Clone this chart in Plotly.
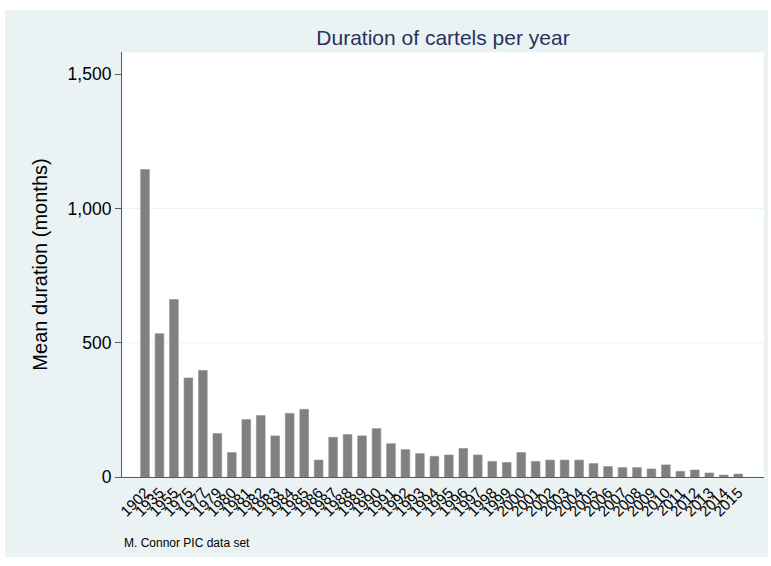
import plotly.graph_objects as go

# ---- data ----
years = ["1902", "1935", "1955", "1975", "1977", "1979"] + [str(y) for y in range(1980, 2016)]
mean_duration = [1145, 534, 661, 369, 397, 162, 91, 214, 229, 153, 237, 252, 63, 148,
                 158, 153, 180, 124, 102, 87, 77, 82, 106, 82, 58, 54, 91, 58,
                 63, 63, 63, 50, 39, 35, 35, 30, 45, 21, 26, 15, 7, 11]
y_ticks = [0, 500, 1000, 1500]
y_tick_text = ["0", "500", "1,000", "1,500"]
grid_values = [500, 1000]

# ---- layout constants ----
W, H = 771, 566
L, R, T, B = 122, 7, 52, 89
PW, PH = W - L - R, H - T - B
BG = "#eaf2f3"
FONT = "Liberation Sans, Arial, Helvetica, sans-serif"

def px_x(x):
    return (x - L) / PW

def px_y(y):
    return (H - B - y) / PH

fig = go.Figure()
fig.add_trace(go.Bar(
    x=years, y=mean_duration,
    marker=dict(color="#808080", line=dict(color="#8c8c8c", width=0.6)),
    hoverinfo="x+y",
))

shapes = [
    # outer graph region background
    dict(type="rect", xref="paper", yref="paper", layer="below",
         x0=px_x(5), x1=px_x(768), y0=px_y(557), y1=px_y(10),
         fillcolor=BG, line=dict(width=0)),
    # plot region
    dict(type="rect", xref="paper", yref="paper", layer="below",
         x0=0, x1=1, y0=0, y1=1, fillcolor="white", line=dict(color="#eef3f4", width=1)),
]
for g in grid_values:
    shapes.append(dict(type="line", xref="paper", yref="y", layer="below",
                       x0=0, x1=1, y0=g, y1=g, line=dict(color=BG, width=1.2)))

fig.update_layout(
    width=W, height=H,
    margin=dict(l=L, r=R, t=T, b=B, pad=0),
    paper_bgcolor="white", plot_bgcolor="white",
    font=dict(family=FONT, color="black"),
    showlegend=False,
    bargap=0.4,
    shapes=shapes,
    title=dict(text="Duration of cartels per year", x=0.5, xref="paper", xanchor="center",
               y=1 - 38 / H, yref="container", yanchor="middle",
               font=dict(size=21, color="#26325f", family=FONT)),
    xaxis=dict(type="category", range=[-1.59, 42.78], showgrid=False,
               tickmode="array", tickvals=years, ticktext=years,
               tickangle=-45, tickfont=dict(size=15, color="black"),
               showline=True, linecolor="#5a5a5a", linewidth=1.2,
               ticks="", zeroline=False, fixedrange=True),
    yaxis=dict(range=[0, 1583], tickvals=y_ticks, ticktext=y_tick_text,
               showgrid=False, zeroline=False,
               showline=True, linecolor="#5a5a5a", linewidth=1.2,
               ticks="outside", ticklen=6, tickcolor="#5a5a5a", tickwidth=1,
               tickfont=dict(size=17.5, color="black"),
               title=dict(text="Mean duration (months)", standoff=14,
                          font=dict(size=20, color="black"))),
    annotations=[dict(text="M. Connor PIC data set", xref="paper", yref="paper",
                      x=0, y=px_y(543), xanchor="left", yanchor="middle",
                      showarrow=False, font=dict(size=12, color="black"))],
)

fig.write_html("out.html")
